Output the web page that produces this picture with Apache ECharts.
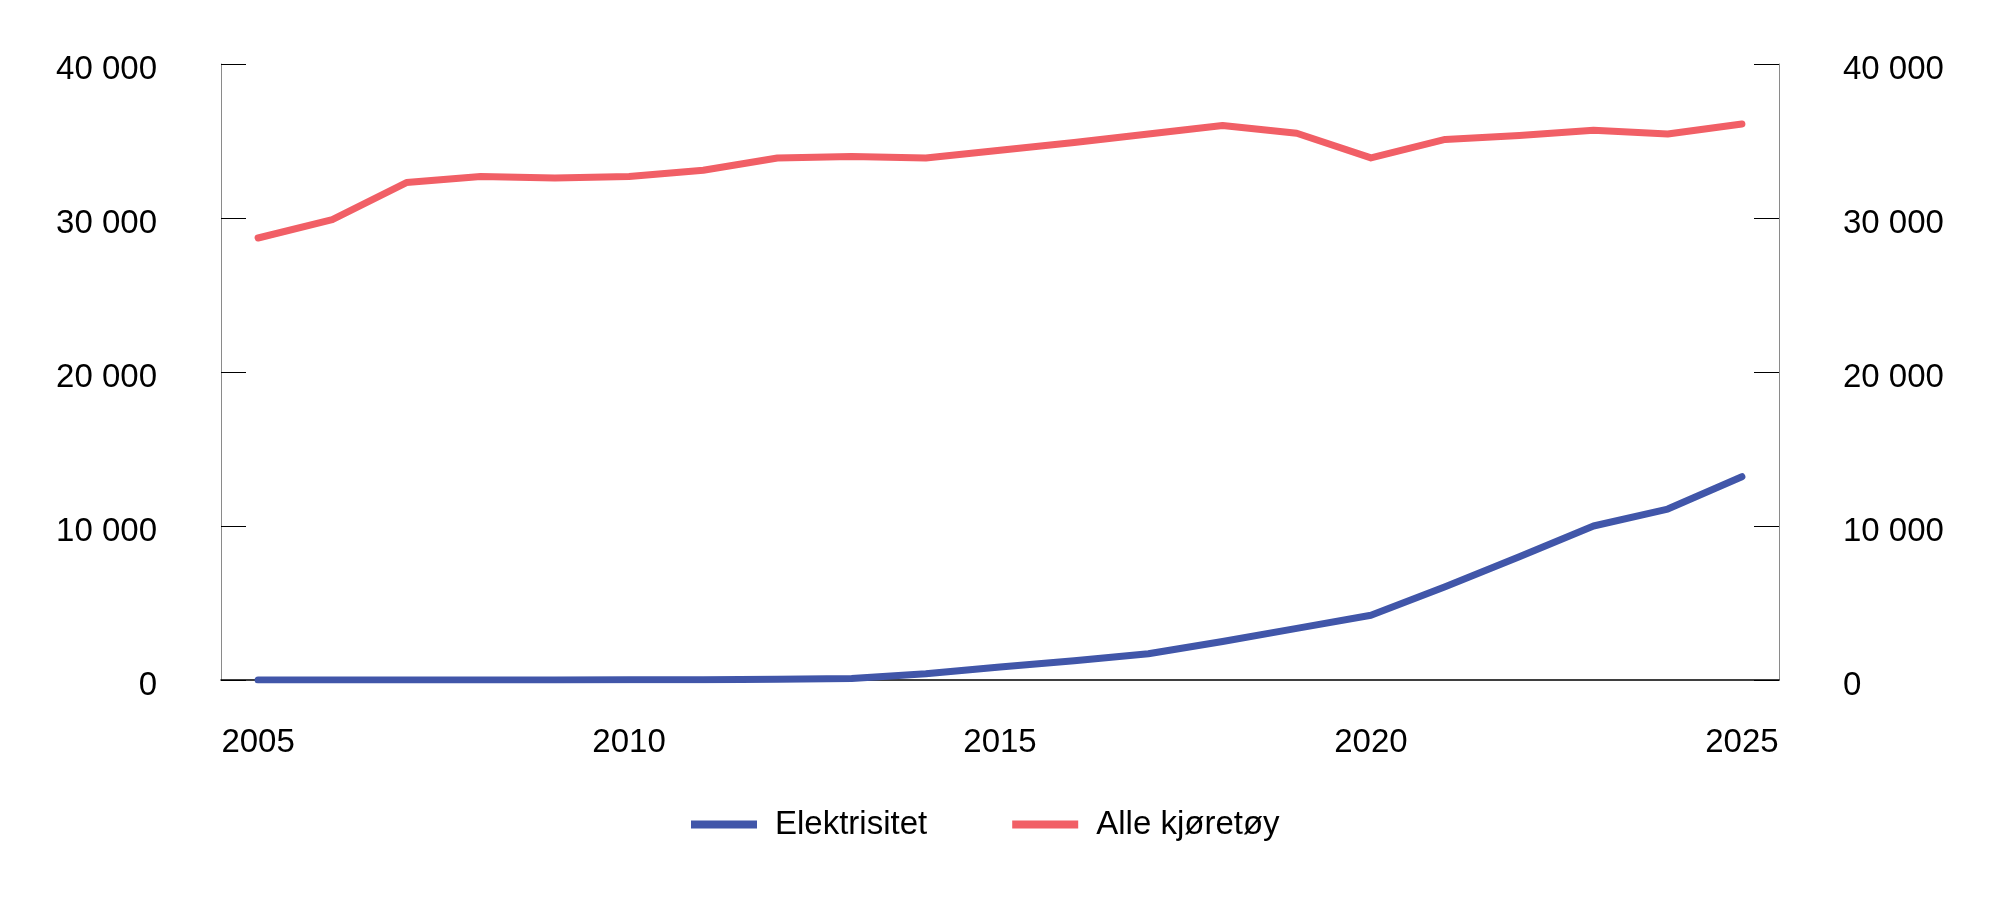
<!DOCTYPE html>
<html>
<head>
<meta charset="utf-8">
<script src="https://cdn.jsdelivr.net/npm/echarts@6/dist/echarts.min.js"></script>
<style>
    html, body { margin: 0; padding: 0; background: #fff; }
    #chart { width: 2000px; height: 908px; }
</style>
</head>
<body>
<div id="chart"></div>
<script>
var years = ['2005', '2006', '2007', '2008', '2009', '2010', '2011', '2012', '2013', '2014',
    '2015', '2016', '2017', '2018', '2019', '2020', '2021', '2022', '2023', '2024', '2025'];
var elektrisitet = [0, 0, 0, 0, 0, 10, 20, 50, 100, 400,
    850, 1250, 1700, 2500, 3350, 4200, 6050, 8000, 10000, 11100, 13200];
var alleKjoretoy = [28700, 29900, 32300, 32700, 32600, 32700, 33100, 33900, 34000, 33900,
    34400, 34900, 35450, 36000, 35500, 33900, 35100, 35350, 35700, 35450, 36100];
var yTicks = [0, 10000, 20000, 30000, 40000];

var font = 'Liberation Sans, Arial, sans-serif';

function fmt(v) {
    // mellomrom som tusenskille
    return '{a|' + String(v).replace(/\B(?=(\d{3})+(?!\d))/g, ' ') + '}';
}

function y_axis(pos) {
    return {
        type: 'value',
        position: pos,
        min: yTicks[0],
        max: yTicks[yTicks.length - 1],
        interval: 10000,
        axisLine: { show: true, lineStyle: { color: '#8a8a8a', width: 1 } },
        axisTick: { show: true, inside: true, length: 25, lineStyle: { color: '#000', width: 1 } },
        splitLine: { show: false },
        axisLabel: {
            margin: 64,
            fontSize: 33,
            fontFamily: font,
            color: '#000',
            formatter: fmt,
            rich: {
                a: { fontSize: 33, fontFamily: font, color: '#000', padding: [11, 0, 0, 0] }
            }
        }
    };
}

var chart = echarts.init(document.getElementById('chart'));
var option = {
    animation: false,
    grid: { left: 221, right: 221, top: 64, bottom: 228 },
    legend: {
        left: 686,
        top: 803,
        icon: 'rect',
        itemWidth: 66,
        itemHeight: 8,
        itemGap: 85,
        textStyle: { fontSize: 33, fontFamily: font, color: '#000', padding: [0, 0, 0, 13] },
        data: ['Elektrisitet', 'Alle kjøretøy']
    },
    xAxis: {
        type: 'category',
        data: years,
        boundaryGap: true,
        axisLine: { show: true, lineStyle: { color: '#000', width: 1.5 } },
        axisTick: { show: false },
        axisLabel: { interval: 4, margin: 46, fontSize: 33, fontFamily: font, color: '#000' }
    },
    yAxis: [y_axis('left'), y_axis('right')],
    series: [{
            name: 'Elektrisitet',
            type: 'line',
            data: elektrisitet,
            showSymbol: false,
            color: '#4156A9',
            lineStyle: { width: 7, cap: 'round', join: 'round' }
        },
        {
            name: 'Alle kjøretøy',
            type: 'line',
            data: alleKjoretoy,
            showSymbol: false,
            color: '#F15F66',
            lineStyle: { width: 7, cap: 'round', join: 'round' }
        }
    ]
};
chart.setOption(option);
</script>
</body>
</html>
